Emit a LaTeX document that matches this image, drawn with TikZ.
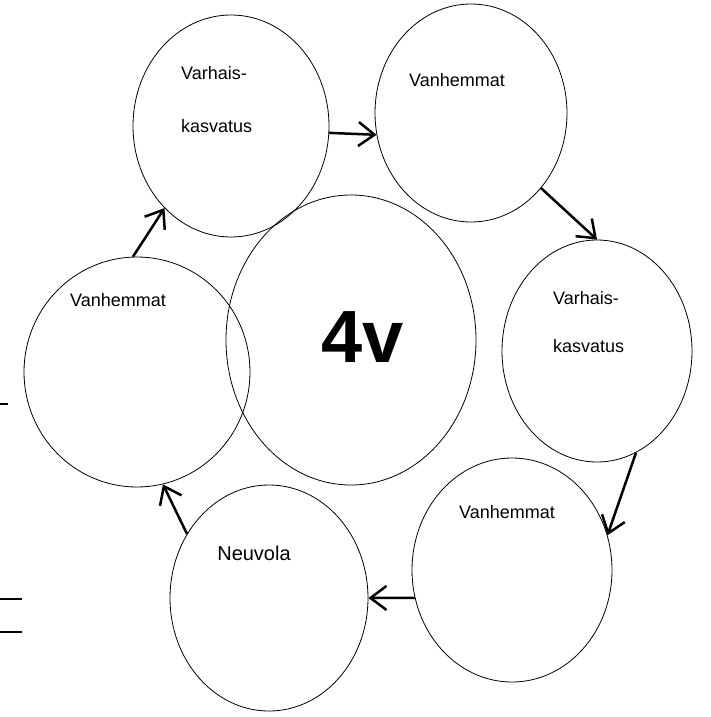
\documentclass[tikz,border=0pt]{standalone}
\usepackage{fontspec}
\setmainfont{Liberation Sans}
\usetikzlibrary{shapes.geometric,arrows.meta}

\begin{document}
\begin{tikzpicture}[x=1pt, y=-1pt,
  oval/.style = {draw, ellipse, line width=0.8pt, inner sep=0pt},
  lbl/.style = {font=\fontsize{18}{20}\selectfont, inner sep=0pt},
  arr/.style = {line width=2.5pt, -{Straight Barb[length=16pt,width=24pt,line width=2.5pt]}}]
  \useasboundingbox (0,0) rectangle (711,717);
  % ovals
  \node[oval, minimum width=196pt, minimum height=222pt] (vk1) at (231,126) {};
  \node[oval, minimum width=192pt, minimum height=218pt] (vh1) at (471,113) {};
  \node[oval, minimum width=190pt, minimum height=222pt] (vk2) at (597,351) {};
  \node[oval, minimum width=200pt, minimum height=224pt] (vh2) at (512,570) {};
  \node[oval, minimum width=198pt, minimum height=226pt] (nv) at (269,598) {};
  \node[oval, minimum width=226pt, minimum height=230pt] (vh3) at (137,372) {};
  \node[oval, minimum width=250pt, minimum height=290pt] (big) at (351,340) {};
  % texts
  \node[lbl, anchor=west] (t1a) at (181,73) {Varhais-};
  \node[lbl, anchor=west] (t1b) at (181,126) {kasvatus};
  \node[lbl] (t2) at (457,80) {Vanhemmat};
  \node[lbl, anchor=west] (t3a) at (553,298) {Varhais-};
  \node[lbl, anchor=west] (t3b) at (553,346) {kasvatus};
  \node[lbl] (t4) at (507,512) {Vanhemmat};
  \node[lbl, font=\fontsize{20}{22}\selectfont] (t5) at (254,553) {Neuvola};
  \node[lbl] (t6) at (118,300) {Vanhemmat};
  \node[inner sep=0pt, font=\fontsize{74}{80}\selectfont\bfseries] (t7) at (363,337) {4v};
  % arrows
  \draw[arr] (vk1.-4) -- (vh1.-167);
  \draw[arr] (vh1.-47) -- (vk2.90);
  \draw[arr] (vk2.-69) -- (vh2.20);
  \draw[arr] (vh2.-164) -- (nv.0);
  \draw[arr] (nv.142) -- (vh3.-77);
  \draw[arr] (vh3.92) -- (vk1.-129);
  % marks at left edge
  \draw[line width=1.5pt] (0,404) -- (8,404);
  \draw[line width=1.5pt] (0,599) -- (22,599);
  \draw[line width=1.5pt] (0,632) -- (22,632);
\end{tikzpicture}
\end{document}
